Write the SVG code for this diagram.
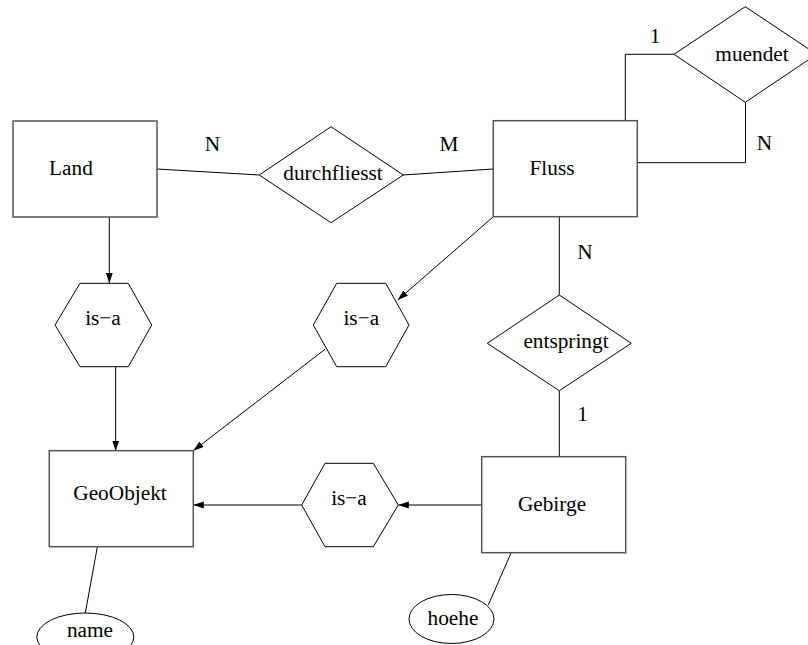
<svg xmlns="http://www.w3.org/2000/svg" width="808" height="645" viewBox="0 0 808 645">
<style>
  .ent { fill: #fff; stroke: #555; stroke-width: 1.5; }
  .rel { fill: #fff; stroke: #000; stroke-width: 1; }
  .ln { fill: none; stroke: #000; stroke-width: 1; }
  .arr { fill: none; stroke: #000; stroke-width: 1; marker-end: url(#ah); }
  text { font-family: "Liberation Serif", "Times New Roman", serif; font-size: 21.3px; fill: #000; text-anchor: middle; }
</style>
<defs>
  <marker id="ah" markerUnits="userSpaceOnUse" markerWidth="11" markerHeight="8" refX="10.5" refY="3.5" orient="auto">
    <path d="M0,0 L10.5,3.5 L0,7 z" fill="#000"/>
  </marker>
</defs>
<g id="connectors">
  <line class="ln" x1="157" y1="169" x2="259" y2="175"/>
  <line class="ln" x1="403" y1="175" x2="493" y2="169"/>
  <polyline class="ln" points="625.3,121 625.3,54.3 674,54.3"/>
  <polyline class="ln" points="637,162.7 745.5,162.7 745.5,102.3"/>
  <line class="ln" x1="559.3" y1="217" x2="559.3" y2="295"/>
  <line class="ln" x1="559.3" y1="391" x2="559.3" y2="457"/>
  <line class="arr" x1="109.3" y1="217" x2="109.3" y2="283.3"/>
  <line class="arr" x1="115.7" y1="366.7" x2="115.7" y2="451"/>
  <line class="arr" x1="493" y1="217" x2="397.7" y2="300"/>
  <line class="arr" x1="325" y1="349.3" x2="193.3" y2="450.7"/>
  <line class="arr" x1="481.7" y1="505" x2="398.3" y2="505"/>
  <line class="arr" x1="301.7" y1="505" x2="193.3" y2="505"/>
  <line class="ln" x1="97.3" y1="547" x2="85.3" y2="613"/>
  <line class="ln" x1="511" y1="553" x2="488.3" y2="605"/>
  <text x="212.5" y="150.5">N</text>
  <text x="449" y="150.5">M</text>
  <text x="655" y="43">1</text>
  <text x="764.5" y="150">N</text>
  <text x="585" y="258.5">N</text>
  <text x="582.5" y="420.5">1</text>
</g>
<g id="land">
  <rect class="ent" x="13" y="121" width="144" height="96"/>
  <text x="71" y="175">Land</text>
</g>
<g id="durchfliesst">
  <polygon class="rel" points="259.3,175 331,126.7 403.3,175 331,222.7"/>
  <text x="333" y="180">durchfliesst</text>
</g>
<g id="fluss">
  <rect class="ent" x="493.3" y="120.7" width="144" height="96"/>
  <text x="552" y="175">Fluss</text>
</g>
<g id="muendet">
  <polygon class="rel" points="674,54.3 745.3,6.7 816.6,54.3 745.3,102.3"/>
  <text x="752" y="61">muendet</text>
</g>
<g id="entspringt">
  <polygon class="rel" points="487.3,343.3 559.3,295 631.3,343.3 559.3,390.7"/>
  <text x="566" y="348.3">entspringt</text>
</g>
<g id="isa-land">
  <polygon class="rel" points="55,325 80,283.3 128.3,283.3 151.7,325 128.3,366.7 80,366.7"/>
  <text x="103" y="325">is−a</text>
</g>
<g id="isa-fluss">
  <polygon class="rel" points="313.3,325 336.7,283.3 385.7,283.3 409,325 385.7,366.7 336.7,366.7"/>
  <text x="361.3" y="325">is−a</text>
</g>
<g id="isa-gebirge">
  <polygon class="rel" points="301.7,505 325,463.3 373.3,463.3 398.3,505 373.3,546.7 325,546.7"/>
  <text x="349" y="504.5">is−a</text>
</g>
<g id="geoobjekt">
  <rect class="ent" x="49.3" y="450.7" width="144" height="96"/>
  <text x="120" y="499.5">GeoObjekt</text>
</g>
<g id="gebirge">
  <rect class="ent" x="481.7" y="456.7" width="144" height="96"/>
  <text x="552" y="510.7">Gebirge</text>
</g>
<g id="name">
  <ellipse class="rel" cx="85.3" cy="637" rx="48.5" ry="24"/>
  <text x="90" y="636.7">name</text>
</g>
<g id="hoehe">
  <ellipse class="rel" cx="451.5" cy="619" rx="42.5" ry="24.5"/>
  <text x="453" y="625">hoehe</text>
</g>
</svg>
